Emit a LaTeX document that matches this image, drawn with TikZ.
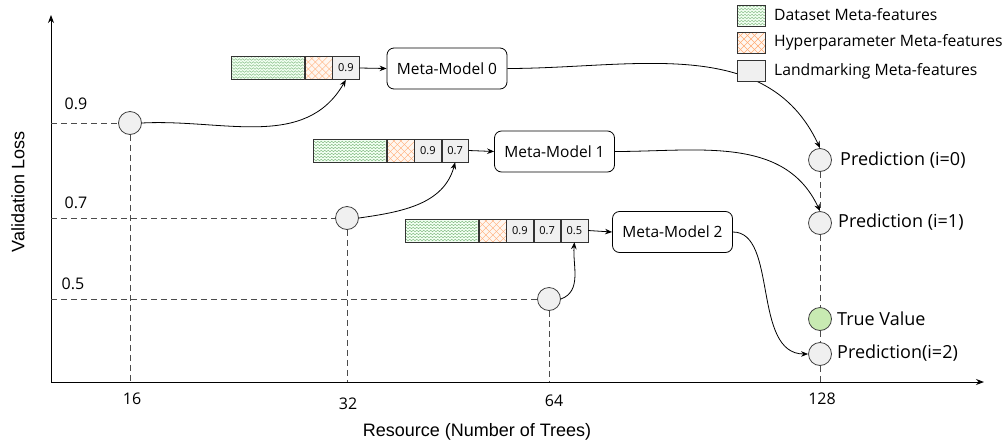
\documentclass[tikz,border=0pt]{standalone}
\usepackage{fontspec}
\setmainfont{Open Sans}
\newfontfamily\axisfont{Liberation Sans}
\usetikzlibrary{arrows.meta,decorations.pathmorphing,calc}
\begin{document}
\begin{tikzpicture}[x=1pt,y=1pt,
  dsf/.style={draw=black!80, line width=0.6pt, minimum width=73pt, minimum height=23pt, inner sep=0pt, fill=green!5,
    path picture={\foreach \i in {2,5,...,23}{\draw[green!45!black!55, line width=0.35pt, decorate, decoration={zigzag, segment length=3.5pt, amplitude=0.9pt}] ([yshift=\i pt]path picture bounding box.south west) -- ([yshift=\i pt]path picture bounding box.south east);}}},
  hpf/.style={draw=black!80, line width=0.6pt, minimum width=27pt, minimum height=23pt, inner sep=0pt, fill=orange!6,
    path picture={\foreach \i in {-28,-21,...,35}{\draw[orange!80!red!55, line width=0.45pt] ([xshift=\i pt]path picture bounding box.south west) -- ++(30pt,30pt); \draw[orange!80!red!55, line width=0.45pt] ([xshift=\i pt]path picture bounding box.south west) -- ++(-30pt,30pt);}}},
  lmf/.style={draw=black!80, line width=0.6pt, minimum width=26.7pt, minimum height=23pt, inner sep=0pt, fill=gray!12, font=\fontsize{11}{12}\selectfont},
  mm/.style={draw=black, line width=0.8pt, rounded corners=7pt, minimum width=120pt, minimum height=41pt, inner sep=0pt, font=\fontsize{15.5}{17}\selectfont},
  pt/.style={circle, draw=black!75, line width=0.8pt, fill=gray!12, minimum size=23pt, inner sep=0pt},
  tvpt/.style={pt, fill=green!45!olive!30},
  dsh/.style={black!70, line width=0.9pt, dash pattern=on 6pt off 4pt},
  arr/.style={line width=0.8pt, -{Stealth[length=7pt,width=5.5pt]}},
  ax/.style={line width=1pt, -{Stealth[length=8pt,width=6pt]}},
  lbl/.style={font=\fontsize{16}{18}\selectfont, inner sep=0pt},
  plbl/.style={font=\fontsize{18}{20}\selectfont, inner sep=0pt, anchor=west},
  leg/.style={font=\fontsize{15.7}{18}\selectfont, inner sep=0pt, anchor=west}
]
\useasboundingbox (0,0) rectangle (1007,-445);

% axes
\coordinate (o) at (51,-382);
\coordinate (xend) at (984,-382);
\coordinate (yend) at (51,-15);
\draw[ax] (o) -- (xend);
\draw[ax] (o) -- (yend);

% axis labels
\node[font=\axisfont\fontsize{18}{20}\selectfont, rotate=90] (ylab) at (18,-192) {Validation Loss};
\node[font=\axisfont\fontsize{18}{20}\selectfont] (xlab) at (477,-432) {Resource (Number of Trees)};
\node[lbl] (t16) at (132,-399) {16};
\node[lbl] (t32) at (348,-404) {32};
\node[lbl] (t64) at (554,-401) {64};
\node[lbl] (t128) at (822,-399) {128};
\node[lbl] (v09) at (76,-104) {0.9};
\node[lbl] (v07) at (76,-203) {0.7};
\node[lbl] (v05) at (73,-284) {0.5};

% observed points
\node[pt] (n16) at (130,-123) {};
\node[pt] (n32) at (347,-218) {};
\node[pt] (n64) at (549,-299) {};
\coordinate (y09) at (51,-123);
\coordinate (y07) at (51,-218);
\coordinate (y05) at (51,-299);
\coordinate (a16) at (130,-382);
\coordinate (a32) at (347,-382);
\coordinate (a64) at (549,-382);
\coordinate (a128) at (820,-382);
\draw[dsh] (y09) -- (n16.west);
\draw[dsh] (y07) -- (n32.west);
\draw[dsh] (y05) -- (n64.west);
\draw[dsh] (n16.south) -- (a16);
\draw[dsh] (n32.south) -- (a32);
\draw[dsh] (n64.south) -- (a64);

% prediction column
\node[pt] (p0) at (820,-160) {};
\node[pt] (p1) at (820,-223) {};
\node[tvpt] (tv) at (820,-319) {};
\node[pt] (p2) at (820,-354) {};
\node[plbl] (p0l) at (840,-160) {Prediction (i=0)};
\node[plbl] (p1l) at (838,-222) {Prediction (i=1)};
\node[plbl] (tvl) at (837,-319) {True Value};
\node[plbl] (p2l) at (837,-353) {Prediction(i=2)};
\draw[dsh] (p0.south) -- (p1.north);
\draw[dsh] (p1.south) -- (tv.north);
\draw[dsh] (tv.south) -- (p2.north);
\draw[dsh] (p2.south) -- (a128);

% feature bars
\node[dsf, anchor=west] (g0) at (231,-68) {};
\node[hpf, anchor=west] (h0) at (g0.east) {};
\node[lmf, anchor=west] (l00) at (h0.east) {0.9};

\node[dsf, anchor=west] (g1) at (313,-150.5) {};
\node[hpf, anchor=west] (h1) at (g1.east) {};
\node[lmf, anchor=west] (l10) at (h1.east) {0.9};
\node[lmf, anchor=west] (l11) at (l10.east) {0.7};

\node[dsf, anchor=west] (g2) at (405,-230.5) {};
\node[hpf, anchor=west] (h2) at (g2.east) {};
\node[lmf, anchor=west] (l20) at (h2.east) {0.9};
\node[lmf, anchor=west] (l21) at (l20.east) {0.7};
\node[lmf, anchor=west] (l22) at (l21.east) {0.5};

% meta-models
\node[mm] (mm0) at (447,-68.5) {Meta-Model 0};
\node[mm] (mm1) at (554.5,-151.5) {Meta-Model 1};
\node[mm] (mm2) at (672.5,-232) {Meta-Model 2};

\draw[arr] (l00.east) -- (mm0.west);
\draw[arr] (l11.east) -- (mm1.west);
\draw[arr] (l22.east) -- (mm2.west);

% curves from points to landmark cells
\draw[arr] (n16.east) to[out=3,in=-120] (l00.south);
\draw[arr] (n32.east) to[out=8,in=-105] (l11.south);
\draw[arr] (n64.east) to[out=20,in=-95] (l22.south);

% curves from meta-models to predictions
\draw[arr] (mm0.east) to[out=0,in=115] (p0.north);
\draw[arr] (mm1.east) to[out=0,in=115] (p1.north);
\draw[arr] (mm2.east) .. controls (778,-232) and (752,-354) .. (p2.west);

% legend
\node[dsf, minimum width=28pt, minimum height=21pt] (lg0) at (751,-15.5) {};
\node[hpf, minimum width=28pt, minimum height=21pt] (lg1) at (751,-42.5) {};
\node[lmf, minimum width=28pt, minimum height=21pt] (lg2) at (751,-71) {};
\node[leg] (lt0) at (774,-15) {Dataset Meta-features};
\node[leg] (lt1) at (774,-42) {Hyperparameter Meta-features};
\node[leg] (lt2) at (774,-71) {Landmarking Meta-features};
\end{tikzpicture}
\end{document}
